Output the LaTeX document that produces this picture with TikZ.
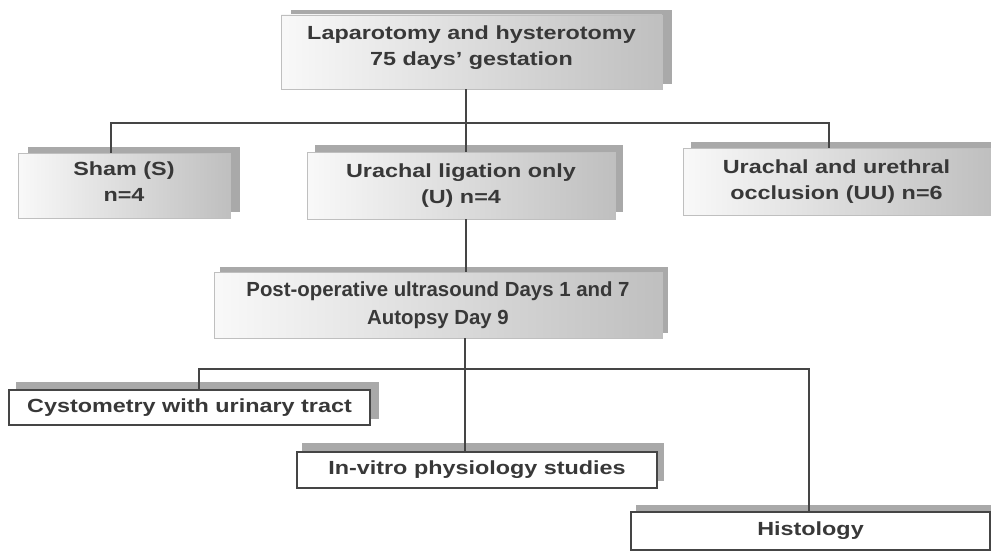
\documentclass[tikz,border=0pt]{standalone}
\usepackage{fontspec}
\setmainfont{Liberation Sans}[FakeStretch=1.23]
\newfontfamily\plainsans{Liberation Sans}
\usetikzlibrary{calc,backgrounds}
\definecolor{txt}{HTML}{383838}
\definecolor{ln}{HTML}{454545}
\definecolor{shd}{HTML}{A9A9A9}
\tikzset{
 base/.style={align=center, font=\fontsize{19}{26}\selectfont\bfseries, text=txt, inner sep=0pt},
 gbox/.style={base, left color=gray!5, right color=gray!50, draw=gray!50, line width=0.8pt},
 wbox/.style={base, fill=white, draw=ln, line width=1.5pt},
 conn/.style={draw=ln, line width=2pt},
 shadowfill/.style={fill=shd}
}
\newcommand\castshadow[3]{\fill[shadowfill] ($(#1.south west)+(#2,#3)$) rectangle ($(#1.north east)+(#2,#3)$);}
\begin{document}
\begin{tikzpicture}[x=1pt,y=-1pt]
\useasboundingbox (0,0) rectangle (991,551);
% upper boxes
\node[gbox, minimum width=381pt, minimum height=74pt, text depth=13pt] (top) at (471.5,52) {Laparotomy and hysterotomy\\75 days’ gestation};
\node[gbox, minimum width=212pt, minimum height=65pt, text depth=7pt] (sham) at (124,185.5) {Sham (S)\\n=4};
\node[gbox, minimum width=308pt, minimum height=67pt] (u) at (461,185.5) {Urachal ligation only\\(U) n=4};
\node[gbox, minimum width=307pt, minimum height=67pt] (uu) at (836.5,181.5) {Urachal and urethral\\occlusion (UU) n=6};
\node[gbox, minimum width=448pt, minimum height=66pt, font=\plainsans\fontsize{20.4}{28}\selectfont\bfseries] (post) at (438,305) {Post-operative ultrasound Days 1 and 7\\Autopsy Day 9};
% lower boxes
\node[wbox, minimum width=361pt, minimum height=35pt] (cyst) at (189.5,407.5) {Cystometry with urinary tract};
\node[wbox, minimum width=360pt, minimum height=36pt] (vitro) at (477,470) {In-vitro physiology studies};
\node[wbox, minimum width=359pt, minimum height=38pt] (hist) at (810.5,531) {Histology};
% connector coordinates
\coordinate (busL) at (111,123);
\coordinate (busR) at (829,123);
\coordinate (spine) at (466,123);
\coordinate (lbusL) at (199,369);
\coordinate (lbusR) at (809,369);
\coordinate (lspine) at (465,369);
% connectors
\draw[conn] (busL |- sham.north) -- (busL) -- (busR) -- (busR |- uu.north);
\draw[conn] (top.south -| spine) -- (u.north -| spine);
\draw[conn] (u.south -| spine) -- (post.north -| spine);
\draw[conn] (post.south -| lspine) -- (vitro.north -| lspine);
\draw[conn] (cyst.north -| lbusL) -- (lbusL) -- (lbusR) -- (hist.north -| lbusR);
\begin{scope}[on background layer]
\fill[white] (0,0) rectangle (991,551);
\castshadow{top}{10}{-5}
\castshadow{sham}{10}{-6}
\castshadow{u}{8}{-7}
\castshadow{uu}{8}{-6}
\castshadow{post}{6}{-5}
\castshadow{cyst}{8}{-7}
\castshadow{vitro}{6}{-8}
\castshadow{hist}{6}{-6}
\end{scope}
\end{tikzpicture}
\end{document}
